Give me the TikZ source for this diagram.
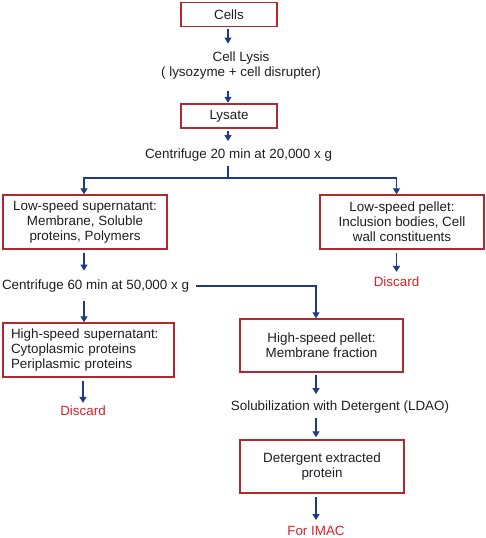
\documentclass[tikz,border=0pt]{standalone}
\usepackage{fontspec}
\setmainfont{Liberation Sans}
\usetikzlibrary{arrows.meta}
\definecolor{boxred}{RGB}{178,40,48}
\definecolor{flowblue}{RGB}{28,58,138}
\definecolor{discardred}{RGB}{220,30,40}
\definecolor{txt}{RGB}{30,30,30}
\tikzset{
  stepbox/.style={draw=boxred, line width=1.4pt, align=center, inner sep=2pt,
    minimum height=54pt, text=txt},
  note/.style={align=center, text=txt, inner sep=2pt},
  flow/.style={draw=flowblue, line width=1.2pt, -{Triangle[length=6pt,width=7pt]}},
  flowline/.style={draw=flowblue, line width=1.2pt},
  gone/.style={text=discardred, inner sep=2pt}
}
\begin{document}
\begin{tikzpicture}[x=1pt, y=-1pt, font=\fontsize{13.4}{15}\selectfont]
\useasboundingbox (0,0) rectangle (485,538);
% top of the tree
\node[stepbox, minimum width=96pt, minimum height=24pt] (cells) at (229,14.5) {Cells};
\node[note] (lysis) at (241,65.5) {Cell Lysis\\( lysozyme + cell disrupter)};
\node[stepbox, minimum width=96pt, minimum height=24pt] (lysate) at (229,116) {Lysate};
\node[note] (cf20) at (238.5,155.5) {Centrifuge 20 min at 20,000 x g};
\coordinate (split) at (228,178);
% low-speed branch
\node[stepbox, minimum width=164pt] (lss) at (85,222)
{Low-speed supernatant:\\Membrane, Soluble\\proteins, Polymers};
\node[stepbox, minimum width=164pt] (lsp) at (402,222)
{Low-speed pellet:\\Inclusion bodies, Cell\\wall constituents};
\node[gone] (drop1) at (396.5,282) {Discard};
\node[note] (cf60) at (95.5,286) {Centrifuge 60 min at 50,000 x g};
% high-speed branch
\node[stepbox, minimum width=171pt, align=left, text width=155pt] (hss) at (88.5,350)
{High-speed supernatant:\\Cytoplasmic proteins\\Periplasmic proteins};
\node[stepbox, minimum width=163pt, minimum height=53pt] (hsp) at (321.5,345.5)
{High-speed pellet:\\Membrane fraction};
\node[gone] (drop2) at (83,411) {Discard};
\node[note] (solub) at (340,407) {Solubilization with Detergent (LDAO)};
\node[stepbox, minimum width=164pt, minimum height=53pt] (det) at (322,466.5)
{Detergent extracted\\protein};
\node[gone] (imac) at (316,531) {For IMAC};
% connectors
\draw[flow, shorten <=1.5pt, shorten >=6pt] ([xshift=-1pt]cells.south) -- ([xshift=-1pt]cells.south |- lysis.north);
\draw[flow, shorten <=10pt, shorten >=0.5pt] ([xshift=-1pt]lysate.north |- lysis.south) -- ([xshift=-1pt]lysate.north);
\draw[flow, shorten <=2pt, shorten >=6pt] ([xshift=-1pt]lysate.south) -- ([xshift=-1pt]lysate.south |- cf20.north);
\draw[flowline, shorten <=2pt] (split |- cf20.south) -- (split);
\draw[flow] (split) -| ([xshift=-1pt]lss.north);
\draw[flow] (split) -| ([xshift=-5.5pt]lsp.north);
\draw[flow, shorten <=3pt, shorten >=7pt] ([xshift=-1pt]lss.south) -- ([xshift=-1pt]lss.south |- cf60.north);
\draw[flow, shorten <=3pt, shorten >=3pt] ([xshift=-5.5pt]lsp.south) -- (drop1.north);
\draw[flow, shorten <=5pt] (cf60.east) -| ([xshift=-5.5pt]hsp.north);
\draw[flow, shorten <=7pt] ([xshift=-1pt]lss.south |- cf60.south) -- ([xshift=-1pt]lss.south |- hss.north);
\draw[flow, shorten <=3pt, shorten >=1pt] (drop2 |- hss.south) -- (drop2.north);
\draw[flow, shorten <=2pt, shorten >=4.5pt] ([xshift=-5.5pt]hsp.south) -- ([xshift=-5.5pt]hsp.south |- solub.north);
\draw[flow, shorten <=2.5pt, shorten >=2pt] ([xshift=-5.5pt]hsp.south |- solub.south) -- ([xshift=-5.5pt]hsp.south |- det.north);
\draw[flow, shorten <=3pt, shorten >=4pt] ([xshift=-6pt]det.south) -- (imac.north);
\end{tikzpicture}
\end{document}
